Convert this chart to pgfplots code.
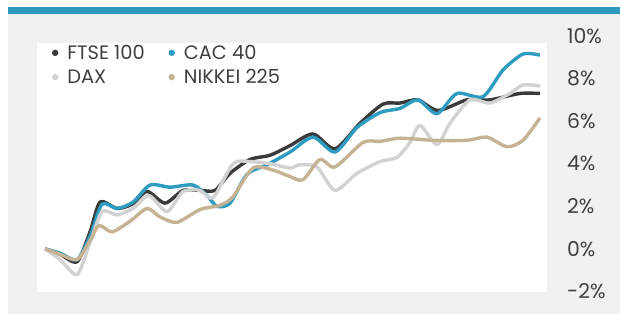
\documentclass[border=0pt]{standalone}
\usepackage{pgfplots}
\pgfplotsset{compat=1.18}
\usepackage{fontspec}
\setmainfont{Poppins}
\definecolor{bggray}{HTML}{F1F1F1}
\definecolor{topblue}{HTML}{2F9ABD}
\definecolor{ftse}{HTML}{3A3A3A}
\definecolor{cac}{HTML}{2E9CC0}
\definecolor{dax}{HTML}{D2D2D2}
\definecolor{nikkei}{HTML}{C5B393}
\definecolor{txt}{HTML}{404040}
\begin{document}
\begin{tikzpicture}
\begin{axis}[
  scale only axis,
  width=620bp, height=314bp,
  xmin=0, xmax=620, ymin=-3.052, ymax=11.690,
  axis line style={draw=none},
  axis on top,
  clip=false,
  xtick=\empty,
  ytick={-2,0,2,4,6,8,10},
  major tick length=0pt,
  yticklabel pos=right,
  /pgf/number format/assume math mode=true,
  yticklabel={\pgfmathprintnumber{\tick}\%},
  yticklabel style={font=\fontsize{20.5}{24}\selectfont, text=txt, anchor=west, inner sep=0pt, xshift=-53bp},
  legend columns=2,
  legend style={at={(axis cs:47,9.68)}, anchor=north west, draw=none, fill=none, inner sep=0pt,
    font=\fontsize{19.5}{23}\selectfont, text=txt, row sep=4.5bp,
    /tikz/every odd column/.append style={column sep=7bp},
    /tikz/every even column/.append style={column sep=17bp}},
  legend cell align=left,
  legend image code/.code={\path[draw=none, fill=none] (0bp,0bp) -- (11bp,0bp); \node[circle, draw=none, inner sep=0pt, minimum size=6.4bp, fill=.] at (3bp,0bp) {};},
  every axis plot/.append style={line width=3.4bp, smooth, tension=0.45, no marks, line join=round},
]
\fill[bggray] (axis cs:8,-3.052) rectangle (axis cs:620,11.03);
\fill[topblue] (axis cs:8,11.03) rectangle (axis cs:620,11.36);
\fill[white] (axis cs:37,-2.02) rectangle (axis cs:547,9.67);

\addplot[ftse] coordinates {
(45,0) (60,-0.25) (77,-0.6) (90,0.8) (100,2.2) (117,1.9) (132,2.1) (147,2.7)
(165,2.15) (183,2.75) (200,2.75) (215,2.75) (230,3.55) (250,4.2) (270,4.4)
(290,4.85) (313,5.4) (335,4.7) (360,5.9) (383,6.8) (400,6.85) (418,7.0)
(438,6.5) (467,7.0) (490,7.0) (520,7.3) (540,7.3)};
\addlegendentry{FTSE 100}
\addplot[cac] coordinates {
(45,0) (60,-0.2) (77,-0.5) (90,0.6) (102,2.1) (117,1.9) (133,2.2) (150,3.0)
(170,2.9) (193,3.0) (207,2.5) (217,2.0) (230,2.15) (247,3.5) (267,3.95)
(290,4.55) (313,5.25) (335,4.55) (357,5.7) (380,6.4) (400,6.6) (418,7.0)
(437,6.35) (457,7.3) (483,7.15) (503,8.4) (523,9.15) (540,9.1)};
\addlegendentry{CAC 40}
\addplot[dax] coordinates {
(45,0) (60,-0.5) (77,-1.2) (90,0.3) (102,1.75) (117,1.6) (133,1.9) (149,2.5)
(167,1.75) (183,2.7) (200,2.75) (213,2.4) (233,4.0) (250,4.1) (270,4.0)
(290,3.8) (300,3.95) (317,3.85) (335,2.75) (357,3.55) (380,4.1) (397,4.3)
(410,5.0) (420,5.8) (437,4.9) (450,5.9) (470,7.0) (490,6.85) (510,7.3)
(523,7.7) (540,7.65)};
\addlegendentry{DAX}
\addplot[nikkei] coordinates {
(45,0) (60,-0.25) (77,-0.5) (90,0.4) (99,1.1) (112,0.8) (130,1.3) (147,1.9)
(160,1.5) (177,1.25) (200,1.85) (220,2.05) (233,2.45) (253,3.8) (273,3.7)
(290,3.4) (303,3.25) (320,4.2) (335,3.85) (363,5.0) (380,5.05) (400,5.2)
(433,5.1) (467,5.1) (487,5.25) (507,4.8) (523,5.1) (540,6.15)};
\addlegendentry{NIKKEI 225}
\end{axis}
\end{tikzpicture}
\end{document}
